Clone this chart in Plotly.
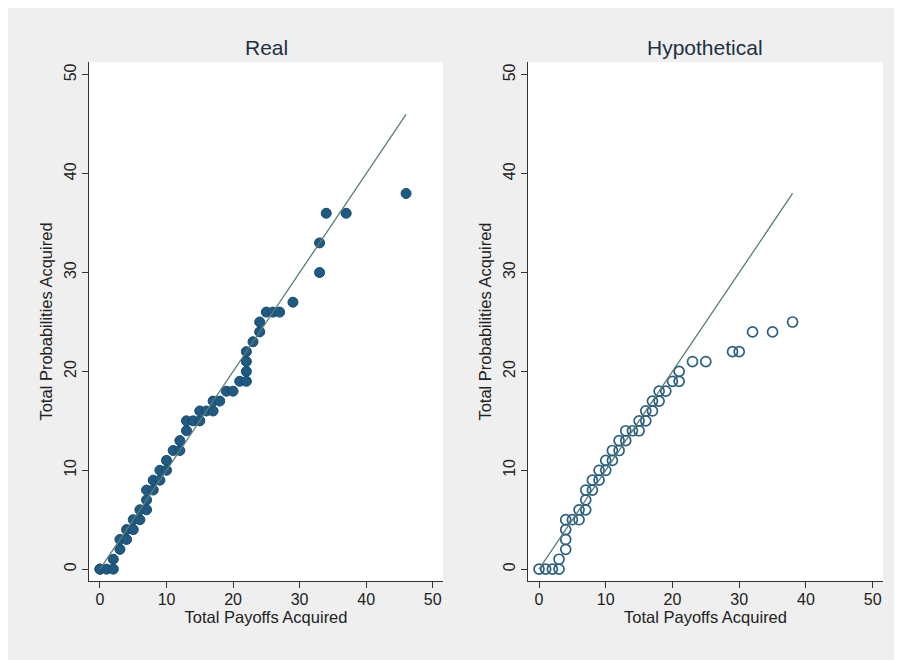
import plotly.graph_objects as go

# Real panel: sorted pairs (payoffs, probabilities)
real_payoffs = [0, 0, 1, 2, 2, 3, 3, 4, 4, 5, 5, 6, 6, 7, 7, 7, 8, 8, 9, 9, 10, 10, 11, 12, 12,
                13, 13, 14, 15, 15, 16, 17, 17, 18, 19, 20, 21, 22, 22, 22, 22, 23, 24, 24,
                25, 26, 27, 29, 33, 33, 34, 37, 46]
real_probs = [0, 0, 0, 0, 1, 2, 3, 3, 4, 4, 5, 5, 6, 6, 7, 8, 8, 9, 9, 10, 10, 11, 12, 12, 13,
              14, 15, 15, 15, 16, 16, 16, 17, 17, 18, 18, 19, 19, 20, 21, 22, 23, 24, 25,
              26, 26, 26, 27, 30, 33, 36, 36, 38]

# Hypothetical panel
hyp_payoffs = [0, 1, 2, 3, 3, 4, 4, 4, 4, 5, 6, 6, 7, 7, 7, 8, 8, 9, 9, 10, 10, 11, 11, 12,
               12, 13, 13, 14, 15, 15, 16, 16, 17, 17, 18, 18, 19, 20, 21, 21, 23, 25, 29,
               30, 32, 35, 38]
hyp_probs = [0, 0, 0, 0, 1, 2, 3, 4, 5, 5, 5, 6, 6, 7, 8, 8, 9, 9, 10, 10, 11, 11, 12, 12,
             13, 13, 14, 14, 14, 15, 15, 16, 16, 17, 17, 18, 18, 19, 19, 20, 21, 21, 22,
             22, 24, 24, 25]

tick_vals = [0, 10, 20, 30, 40, 50]
tick_text = ["0", "10", "20", "30", "40", "50"]
panel_titles = ["Real", "Hypothetical"]
x_title = "Total Payoffs Acquired"
y_title = "Total Probabilities Acquired"

# figure fits inside the 902x660 window minus the page's 8px body margin
W, H = 886, 652
OFF = 8  # screen = paper + OFF


def px(xs):
    return (xs - OFF) / W


def py(ys):
    return 1 - (ys - OFF) / H


FONT = "Liberation Sans, Arial, Helvetica, sans-serif"
TXT = "#222222"
MARK = "#1e5a82"
LINE = "#5a7d75"

fig = go.Figure()

# Real
fig.add_trace(go.Scatter(x=real_payoffs, y=real_probs, mode="markers",
                         marker=dict(size=10, color=MARK, line=dict(color="#184a6c", width=1)),
                         xaxis="x", yaxis="y", showlegend=False))
rmax = max(real_payoffs)
fig.add_trace(go.Scatter(x=[0, rmax], y=[0, rmax], mode="lines",
                         line=dict(color=LINE, width=1.3),
                         xaxis="x", yaxis="y", showlegend=False))

# Hypothetical
fig.add_trace(go.Scatter(x=hyp_payoffs, y=hyp_probs, mode="markers",
                         marker=dict(size=10, color="#2a5f80", symbol="circle-open",
                                     line=dict(color="#2a5f80", width=1.7)),
                         xaxis="x2", yaxis="y2", showlegend=False))
hmax = max(hyp_payoffs)
fig.add_trace(go.Scatter(x=[0, hmax], y=[0, hmax], mode="lines",
                         line=dict(color=LINE, width=1.3),
                         xaxis="x2", yaxis="y2", showlegend=False))

ydom = [py(581), py(62)]

xcommon = dict(range=[-1.65, 51.55], tickvals=tick_vals, ticktext=tick_text,
               showgrid=False, zeroline=False, showline=True, linecolor="#333333",
               linewidth=1.2, ticks="outside", ticklen=6, tickcolor="#333333",
               ticklabelstandoff=-2,
               tickfont=dict(size=16, color=TXT, family=FONT),
               title=dict(text=x_title, font=dict(size=16.5, color=TXT, family=FONT),
                          standoff=2))
ycommon = dict(range=[-1.2, 51.3], tickvals=tick_vals, ticktext=tick_text,
               showgrid=False, zeroline=False, showline=True, linecolor="#333333",
               linewidth=1.2, ticks="outside", ticklen=6, tickcolor="#333333",
               tickangle=-90,
               tickfont=dict(size=16, color=TXT, family=FONT),
               title=dict(text=y_title, font=dict(size=16.5, color=TXT, family=FONT),
                          standoff=4))

fig.update_layout(
    width=W, height=H,
    margin=dict(l=0, r=0, t=0, b=0),
    paper_bgcolor="#efefef",
    plot_bgcolor="#ffffff",
    xaxis=dict(domain=[px(89), px(443)], anchor="y", **xcommon),
    yaxis=dict(domain=ydom, anchor="x", **ycommon),
    xaxis2=dict(domain=[px(528), px(883)], anchor="y2", **xcommon),
    yaxis2=dict(domain=ydom, anchor="x2", **ycommon),
    annotations=[
        dict(text=panel_titles[0], x=px(266), y=py(48), xref="paper", yref="paper",
             xanchor="center", yanchor="middle", showarrow=False,
             font=dict(size=21, color="#1e3042", family=FONT)),
        dict(text=panel_titles[1], x=px(705), y=py(48), xref="paper", yref="paper",
             xanchor="center", yanchor="middle", showarrow=False,
             font=dict(size=21, color="#1e3042", family=FONT)),
    ],
)

fig.write_html("out.html")
